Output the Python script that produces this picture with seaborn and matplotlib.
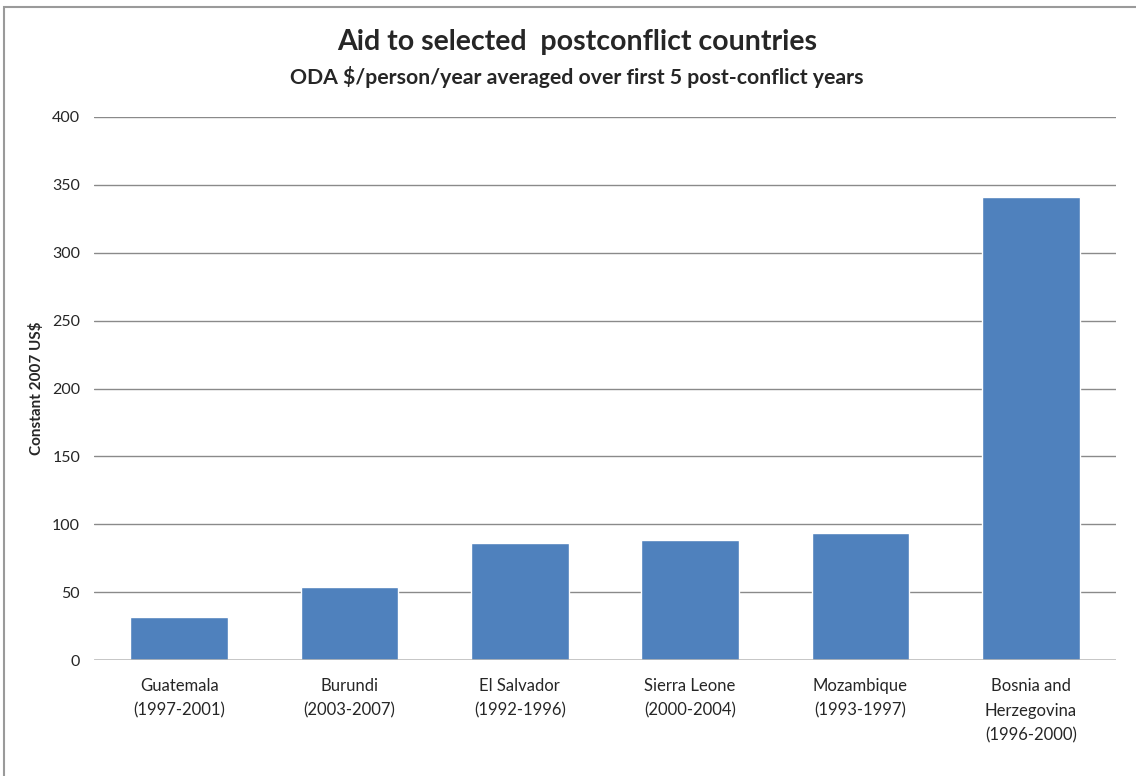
import matplotlib
matplotlib.use("Agg")
import matplotlib.pyplot as plt
import seaborn as sns
import pandas as pd
from matplotlib.patches import Rectangle

countries = ["Guatemala\n(1997-2001)", "Burundi\n(2003-2007)", "El Salvador\n(1992-1996)",
             "Sierra Leone\n(2000-2004)", "Mozambique\n(1993-1997)", "Bosnia and\nHerzegovina\n(1996-2000)"]
values = [31.7, 53.8, 86.2, 88.4, 93.6, 341.0]
yticks = [0, 50, 100, 150, 200, 250, 300, 350, 400]

sns.set_theme(style="white")
plt.rcParams['font.family'] = ['Lato', 'DejaVu Sans']

df = pd.DataFrame({"country": countries, "value": values})

fig = plt.figure(figsize=(11.36, 7.76), dpi=100)
ax = fig.add_axes([94/1136, 1-660/776, (1116-94)/1136, (660-117)/776])

sns.barplot(data=df, x="country", y="value", color="#4F81BD", width=0.575,
            saturation=1, ax=ax, zorder=3)

ax.set_ylim(0, 400)
ax.set_yticks(yticks)
ax.set_yticklabels([str(t) for t in yticks], fontsize=11.5)
ax.set_xlim(-0.5, 5.5)
ax.set_xticks(range(len(countries)))
ax.set_xticklabels(countries, fontsize=12, linespacing=1.65)
for t in yticks[1:]:
    ax.axhline(t, color="#8a8a8a", lw=1.0, zorder=1)
ax.axhline(0, color="#b5b5b5", lw=1.8, zorder=4)
for s in ax.spines.values():
    s.set_visible(False)
ax.tick_params(axis="y", length=0, pad=10)
ax.tick_params(axis="x", length=0, pad=13)
ax.set_xlabel("")
ax.set_ylabel("Constant 2007 US$", fontsize=11, fontweight="bold", labelpad=6)

fig.text(577/1136, 1-42/776, "Aid to selected  postconflict countries",
         ha="center", va="center", fontsize=20.5, fontweight="bold")
fig.text(577/1136, 1-77/776, "ODA $/person/year averaged over first 5 post-conflict years",
         ha="center", va="center", fontsize=15.3, fontweight="bold")

fig.patches.append(Rectangle((4/1136, -0.1), 1.2, 1 - 7/776 + 0.1, transform=fig.transFigure,
                             fill=False, edgecolor="#9a9a9a", lw=1.5))

fig.savefig("out.png", dpi=100)
